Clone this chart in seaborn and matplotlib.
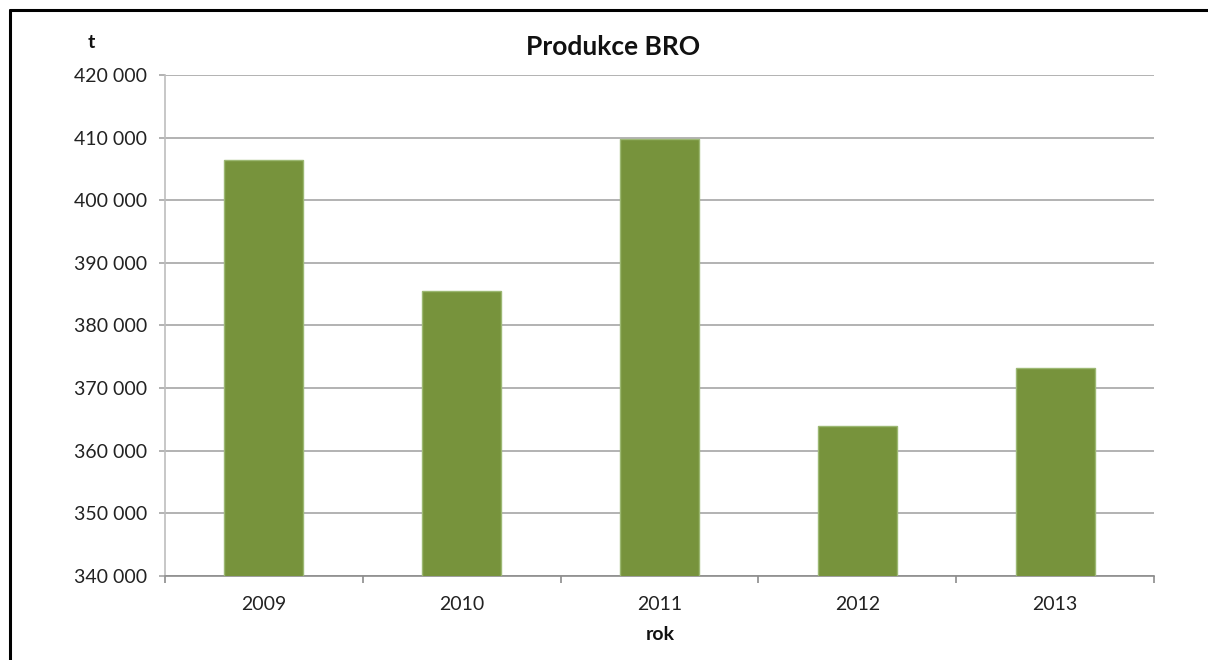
import matplotlib
matplotlib.use("Agg")
import matplotlib.pyplot as plt
import matplotlib.ticker as mticker
from matplotlib.lines import Line2D
import seaborn as sns
import pandas as pd

# Annual production data
years = ["2009", "2010", "2011", "2012", "2013"]
production_t = [406400, 385500, 409800, 364000, 373200]

title = "Produkce BRO"
x_label = "rok"
y_label = "t"

sns.set_theme(style="white")
plt.rcParams["font.family"] = ["Lato", "DejaVu Sans"]

W, H = 1208, 660
fig = plt.figure(figsize=(W / 100, H / 100), dpi=100)
ax = fig.add_axes([165 / W, 1 - 576 / H, (1154 - 165) / W, (576 - 75) / H])

df = pd.DataFrame({"year": years, "value": production_t})
sns.barplot(data=df, x="year", y="value", ax=ax, color="#77933C",
            saturation=1, width=0.4, edgecolor="#9cb873", linewidth=1, zorder=3)

ax.set_ylim(340000, 420000)
ax.set_xlim(-0.5, len(years) - 0.5)
ax.yaxis.set_major_locator(mticker.MultipleLocator(10000))
ax.yaxis.set_major_formatter(mticker.FuncFormatter(lambda v, p: f"{int(v):,}".replace(",", " ")))

# horizontal gridlines
ax.grid(axis="y", color="#a6a6a6", linewidth=1.2, zorder=0)
ax.grid(axis="x", visible=False)

# category boundary ticks on the x axis
ax.set_xticks(range(len(years)))
ax.set_xticklabels(years)
ax.xaxis.set_minor_locator(mticker.FixedLocator([i - 0.5 for i in range(len(years) + 1)]))
ax.tick_params(axis="x", which="major", length=0, pad=14.5, labelsize=14, labelcolor="#222222")
ax.tick_params(axis="x", which="minor", length=5, width=1.2, color="#8c8c8c", direction="out", bottom=True)
ax.tick_params(axis="y", which="major", length=4, width=1.2, color="#a6a6a6", direction="out",
               left=True, pad=9, labelsize=14, labelcolor="#222222")

for side in ["top", "right"]:
    ax.spines[side].set_visible(False)
ax.spines["left"].set_color("#bdbdbd")
ax.spines["left"].set_linewidth(1.2)
ax.spines["bottom"].set_color("#8c8c8c")
ax.spines["bottom"].set_linewidth(1.2)
ax.set_xlabel("")
ax.set_ylabel("")

fig.text(613 / W, 1 - 47 / H, title, ha="center", va="center",
         fontsize=19, fontweight="bold", color="#111111")
fig.text(660 / W, 1 - 635 / H, x_label, ha="center", va="center",
         fontsize=14, fontweight="bold", color="#111111")
fig.text(91 / W, 1 - 42 / H, y_label, ha="center", va="center",
         fontsize=14, fontweight="bold", color="#111111")

# outer frame of the chart area
fx = 10 / W
fy = 1 - 10 / H
fig.add_artist(Line2D([fx, fx], [0, fy], transform=fig.transFigure, color="black", linewidth=2.2))
fig.add_artist(Line2D([fx, 1], [fy, fy], transform=fig.transFigure, color="black", linewidth=2.2))

fig.savefig("out.png", dpi=100, facecolor="white")
